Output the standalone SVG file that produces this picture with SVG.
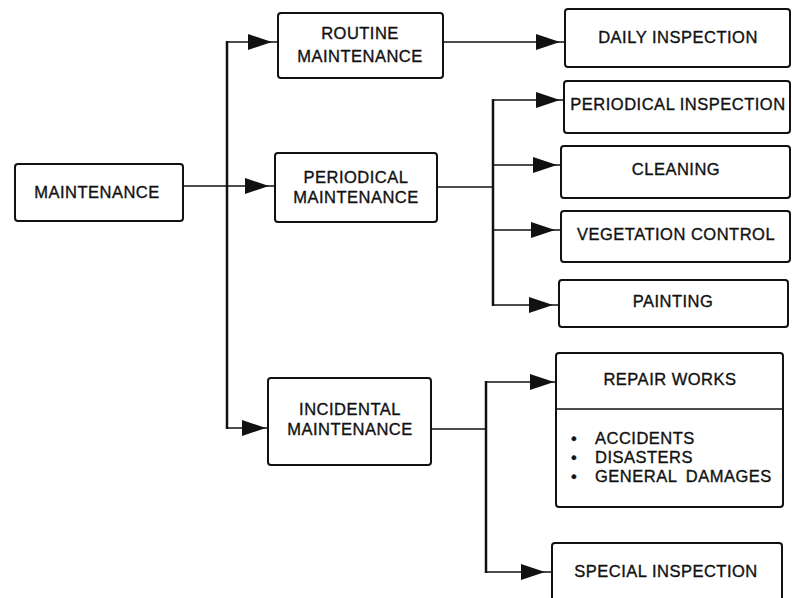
<svg xmlns="http://www.w3.org/2000/svg" xmlns:xlink="http://www.w3.org/1999/xlink" width="792" height="598" viewBox="0 0 792 598">
<style>
.box{fill:#fff;stroke:#111;stroke-width:2}
.t{font-family:"Liberation Sans",Arial,sans-serif;font-size:16.5px;letter-spacing:0.5px;fill:#111;stroke:#111;stroke-width:0.35;text-anchor:middle}
.l{text-anchor:start}
.c{stroke:#111;stroke-width:1.5;fill:none}
.v{stroke:#111;stroke-width:2.5;fill:none}
.ah{fill:#111}
</style>
<defs>
<path id="ah" d="M-24,-8 L0,0 L-24,8 Z"/>
</defs>
<rect width="792" height="598" fill="#fff"/>
<g id="connectors">
<line class="c" x1="183" y1="186" x2="275" y2="186"/>
<line class="v" x1="227" y1="41" x2="227" y2="429"/>
<line class="c" x1="227" y1="42" x2="278" y2="42"/>
<line class="c" x1="227" y1="428" x2="268" y2="428"/>
<line class="c" x1="443" y1="42" x2="565" y2="42"/>
<line class="c" x1="437" y1="187" x2="493" y2="187"/>
<line class="v" x1="493" y1="99" x2="493" y2="306"/>
<line class="c" x1="493" y1="100" x2="564" y2="100"/>
<line class="c" x1="493" y1="165" x2="561" y2="165"/>
<line class="c" x1="493" y1="230" x2="561" y2="230"/>
<line class="c" x1="493" y1="305" x2="559" y2="305"/>
<line class="c" x1="431" y1="429" x2="486" y2="429"/>
<line class="v" x1="486" y1="381" x2="486" y2="573"/>
<line class="c" x1="486" y1="382" x2="556" y2="382"/>
<line class="c" x1="486" y1="572" x2="552" y2="572"/>
<use xlink:href="#ah" class="ah" x="269" y="186"/>
<use xlink:href="#ah" class="ah" x="272" y="42"/>
<use xlink:href="#ah" class="ah" x="266" y="428"/>
<use xlink:href="#ah" class="ah" x="560" y="42"/>
<use xlink:href="#ah" class="ah" x="560" y="100"/>
<use xlink:href="#ah" class="ah" x="557" y="165"/>
<use xlink:href="#ah" class="ah" x="555" y="230"/>
<use xlink:href="#ah" class="ah" x="553" y="305"/>
<use xlink:href="#ah" class="ah" x="554" y="382"/>
<use xlink:href="#ah" class="ah" x="545" y="572"/>
</g>
<g id="maintenance">
<rect class="box" x="15" y="164" width="168" height="57" rx="3"/>
<text class="t" x="97" y="198">MAINTENANCE</text>
</g>
<g id="routine">
<rect class="box" x="278" y="13" width="165" height="65" rx="3"/>
<text class="t" x="360" y="39">ROUTINE</text>
<text class="t" x="360" y="62">MAINTENANCE</text>
</g>
<g id="periodical">
<rect class="box" x="275" y="153" width="162" height="69" rx="3"/>
<text class="t" x="356" y="183">PERIODICAL</text>
<text class="t" x="356" y="203">MAINTENANCE</text>
</g>
<g id="incidental">
<rect class="box" x="268" y="378" width="163" height="87" rx="3"/>
<text class="t" x="350" y="415">INCIDENTAL</text>
<text class="t" x="350" y="435">MAINTENANCE</text>
</g>
<g id="daily">
<rect class="box" x="565" y="9" width="225" height="58" rx="3"/>
<text class="t" x="678" y="43">DAILY INSPECTION</text>
</g>
<g id="periodical-inspection">
<rect class="box" x="564" y="81" width="226" height="52" rx="3"/>
<text class="t" x="678" y="110">PERIODICAL INSPECTION</text>
</g>
<g id="cleaning">
<rect class="box" x="561" y="146" width="229" height="52" rx="3"/>
<text class="t" x="676" y="175">CLEANING</text>
</g>
<g id="vegetation">
<rect class="box" x="561" y="211" width="229" height="51" rx="3"/>
<text class="t" x="676" y="240">VEGETATION CONTROL</text>
</g>
<g id="painting">
<rect class="box" x="559" y="280" width="229" height="47" rx="3"/>
<text class="t" x="673" y="307">PAINTING</text>
</g>
<g id="repair">
<rect class="box" x="556" y="353" width="227" height="154" rx="3"/>
<line class="c" x1="556" y1="409" x2="783" y2="409"/>
<text class="t" x="670" y="385">REPAIR WORKS</text>
<text class="t l" x="571" y="444">•</text>
<text class="t l" x="595" y="444">ACCIDENTS</text>
<text class="t l" x="571" y="463">•</text>
<text class="t l" x="595" y="463">DISASTERS</text>
<text class="t l" x="571" y="482">•</text>
<text class="t l" x="595" y="482" style="word-spacing:4px">GENERAL DAMAGES</text>
</g>
<g id="special">
<rect class="box" x="552" y="543" width="230" height="62" rx="3"/>
<text class="t" x="666" y="577">SPECIAL INSPECTION</text>
</g>
</svg>
